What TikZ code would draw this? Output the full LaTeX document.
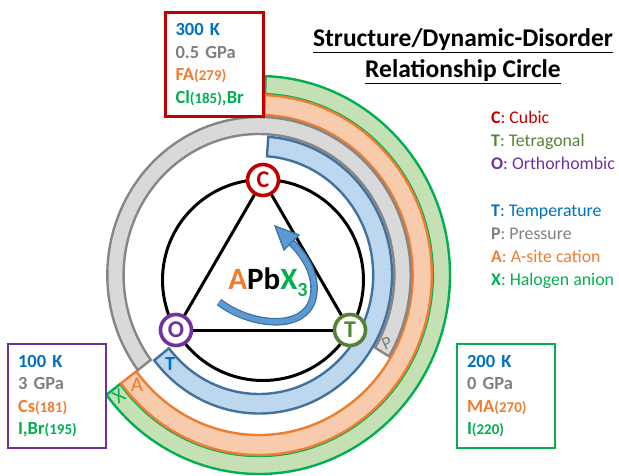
\documentclass[tikz,border=0pt]{standalone}
\usepackage{fontspec}
\setmainfont{Carlito}
\usetikzlibrary{arrows.meta}
\definecolor{cred}{HTML}{C00000}
\definecolor{cgreenT}{HTML}{548235}
\definecolor{cpurple}{HTML}{7030A0}
\definecolor{cblue}{HTML}{0070C0}
\definecolor{cgray}{HTML}{7F7F7F}
\definecolor{corange}{HTML}{ED7D31}
\definecolor{cgreen}{HTML}{00B050}
\definecolor{fblue}{HTML}{BDD7EE}
\definecolor{lblue}{HTML}{41719C}
\definecolor{fgray}{HTML}{D9D9D9}
\definecolor{lgray}{HTML}{868686}
\definecolor{forange}{HTML}{F8CBAD}
\definecolor{fgreen}{HTML}{C5E0B4}
\definecolor{arrowblue}{HTML}{5B9BD5}
\begin{document}
\begin{tikzpicture}[x=1pt,y=1pt,
  bandline/.style={line width=2.4pt, line join=miter},
  infobox/.style={draw=#1, line width=2.6pt, rectangle, minimum width=95pt, minimum height=104pt,
     text width=78pt, inner xsep=10pt, align=left, font=\fontsize{18.5}{22.5}\selectfont\bfseries},
  phase/.style={draw=#1, text=#1, circle, line width=3.6pt, fill=white, inner sep=0pt,
     minimum size=31pt, font=\fontsize{24}{24}\selectfont\bfseries},
  legend/.style={anchor=north west, align=left, inner sep=0pt, font=\fontsize{17.8}{23}\selectfont},
  bandlabel/.style={inner sep=0pt}
]
\useasboundingbox (0,0) rectangle (619,-475);

% green band (halogen)
\draw[bandline, draw=cgreen, fill=fgreen]
  ([shift={(259,-275)}]88:191 and 199) arc[start angle=88, end angle=-143, x radius=191, y radius=199]
  -- ([shift={(259,-275)}]-143:173.8 and 181) arc[start angle=-143, end angle=88, x radius=173.8, y radius=181] -- cycle;
% orange band (A-site)
\draw[bandline, draw=corange, fill=forange]
  ([shift={(259,-275)}]88:172.8 and 180) arc[start angle=88, end angle=-143, x radius=172.8, y radius=180]
  -- ([shift={(259,-275)}]-143:153.6 and 160) arc[start angle=-143, end angle=88, x radius=153.6, y radius=160] -- cycle;
% gray band (pressure)
\draw[bandline, draw=lgray, fill=fgray]
  ([shift={(259,-275)}]-31:151.7 and 158) arc[start angle=-31, end angle=217, x radius=151.7, y radius=158]
  -- ([shift={(259,-275)}]217:135.4 and 141) arc[start angle=217, end angle=-31, x radius=135.4, y radius=141] -- cycle;
% blue band (temperature)
\draw[bandline, draw=lblue, fill=fblue]
  ([shift={(259,-275)}]86:133 and 138.5) arc[start angle=86, end angle=-142, x radius=133, y radius=138.5]
  -- ([shift={(259,-275)}]-142:114.2 and 119) arc[start angle=-142, end angle=86, x radius=114.2, y radius=119] -- cycle;

% band labels
\node[bandlabel, text=cblue, font=\fontsize{20}{20}\selectfont\bfseries] (lt) at (170,-364) {T};
\node[bandlabel, text=cgray, font=\fontsize{18}{18}\selectfont, rotate=25] (lp) at ([shift={(259,-275)}]-27:143.5 and 149.5) {P};
\node[bandlabel, text=corange, font=\fontsize{21}{21}\selectfont] (la) at (137,-385) {A};
\node[bandlabel, text=cgreen, font=\fontsize{20}{20}\selectfont, rotate=35] (lx) at (119,-396) {X};

% inner circle and triangle
\draw[line width=3pt] (263,-280) circle (100.5);
\node[phase=cred] (cn) at (263,-180) {C};
\node[phase=cgreenT] (tn) at (350,-330) {T};
\node[phase=cpurple] (on) at (176,-330) {O};
\draw[line width=3pt] (cn) -- (tn);
\draw[line width=3pt] (tn) -- (on);
\draw[line width=3pt] (on) -- (cn);

% centre formula
\node[inner sep=0pt, font=\fontsize{31}{31}\selectfont\bfseries] (apbx) at (268,-282)
  {\textcolor{corange}{A}Pb\textcolor{cgreen}{X\raisebox{-0.22em}{\fontsize{20}{20}\selectfont 3}}};

% curved arrow
\coordinate (tail) at (219,-302);
\coordinate (headbase) at (291,-242);
\draw[line width=1.3pt, draw=lblue, double=arrowblue, double distance=5pt]
  (tail) .. controls (250,-326) and (305,-332) .. (313,-298)
         .. controls (318,-276) and (305,-256) .. (headbase);
\filldraw[fill=arrowblue, draw=lblue, line width=1.3pt, line join=miter]
  (275,-226) -- (299,-235) -- (284,-250) -- cycle;

% info boxes
\node[infobox=cred] (b300) at (214.5,-64.5)
  {\textcolor{cblue}{300 K}\\\textcolor{cgray}{0.5 GPa}\\
   \textcolor{corange}{FA{\fontsize{15}{15}\selectfont(279)}}\\
   \textcolor{cgreen}{Cl{\fontsize{15}{15}\selectfont(185)},Br}};
\node[infobox=cpurple] (b100) at (57,-396)
  {\textcolor{cblue}{100 K}\\\textcolor{cgray}{3 GPa}\\
   \textcolor{corange}{Cs{\fontsize{15}{15}\selectfont(181)}}\\
   \textcolor{cgreen}{I,Br{\fontsize{15}{15}\selectfont(195)}}};
\node[infobox=cgreen] (b200) at (506,-396)
  {\textcolor{cblue}{200 K}\\\textcolor{cgray}{0 GPa}\\
   \textcolor{corange}{MA{\fontsize{15}{15}\selectfont(270)}}\\
   \textcolor{cgreen}{I{\fontsize{15}{15}\selectfont(220)}}};

% title
\node[inner sep=0pt, align=center, font=\fontsize{25.5}{31}\selectfont\bfseries] (title) at (463,-56)
  {\underline{Structure/Dynamic-Disorder}\\\underline{Relationship Circle}};

% legends
\node[legend] (leg1) at (491,-111)
  {\textcolor{cred}{\textbf{C}: Cubic}\\
   \textcolor{cgreenT}{\textbf{T}: Tetragonal}\\
   \textcolor{cpurple}{\textbf{O}: Orthorhombic}};
\node[legend] (leg2) at (491,-205)
  {\textcolor{cblue}{\textbf{T}: Temperature}\\
   \textcolor{cgray}{\textbf{P}: Pressure}\\
   \textcolor{corange}{\textbf{A}: A-site cation}\\
   \textcolor{cgreen}{\textbf{X}: Halogen anion}};
\end{tikzpicture}
\end{document}
